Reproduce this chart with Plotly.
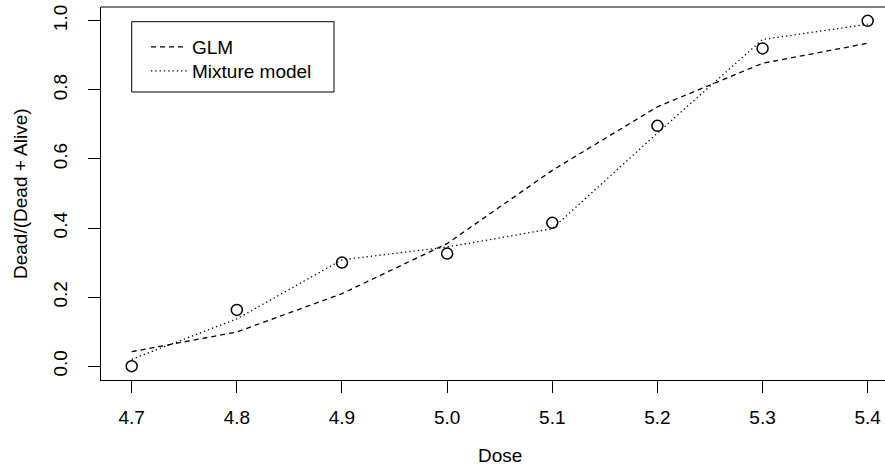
import plotly.graph_objects as go

dose = [4.7, 4.8, 4.9, 5.0, 5.1, 5.2, 5.3, 5.4]
observed = [0.0, 0.163, 0.300, 0.326, 0.415, 0.696, 0.920, 1.0]
glm_fit = [0.042, 0.099, 0.210, 0.355, 0.567, 0.751, 0.877, 0.935]
mixture_fit = [0.020, 0.137, 0.308, 0.345, 0.398, 0.675, 0.946, 0.990]
x_ticks = [4.7, 4.8, 4.9, 5.0, 5.1, 5.2, 5.3, 5.4]
y_ticks = [0.0, 0.2, 0.4, 0.6, 0.8, 1.0]

FONT = "Liberation Sans, Arial, sans-serif"
FS = 19

fig = go.Figure()
fig.add_trace(go.Scatter(x=dose, y=glm_fit, mode="lines", name="GLM", legend="legend",
                         line=dict(color="black", width=1.3, dash="5px,4px")))
fig.add_trace(go.Scatter(x=dose, y=mixture_fit, mode="lines", name="Mixture model",
                         legend="legend2",
                         line=dict(color="black", width=1.3, dash="1.3px,3px")))
fig.add_trace(go.Scatter(x=dose, y=observed, mode="markers", showlegend=False,
                         marker=dict(symbol="circle-open", size=11,
                                     color="black", line=dict(width=1.5, color="black"))))

W, H = 885, 472
L, R, T, B = 101, 0, 7, 92
pw, ph = W - L - R, H - T - B

def px(xp):
    return (xp - L) / pw

def py(yp):
    return (H - B - yp) / ph

leg_common = dict(xanchor="left", yanchor="middle", bgcolor="rgba(0,0,0,0)",
                  borderwidth=0, font=dict(size=FS, family=FONT, color="black"),
                  itemwidth=36, tracegroupgap=0)

fig.update_layout(
    width=W, height=H,
    margin=dict(l=L, r=R, t=T, b=B, autoexpand=False),
    paper_bgcolor="white", plot_bgcolor="white",
    font=dict(family=FONT, size=FS, color="black"),
    showlegend=True,
    legend=dict(x=px(146), y=py(47), **leg_common),
    legend2=dict(x=px(146), y=py(71), **leg_common),
    xaxis=dict(range=[4.6708, 5.41646], tickvals=x_ticks, tickformat=".1f",
               ticks="outside", ticklen=12, tickwidth=1, tickcolor="black",
               showline=True, linecolor="black", linewidth=1,
               showgrid=False, zeroline=False, ticklabelstandoff=8,
               tickfont=dict(size=FS, family=FONT, color="black")),
    yaxis=dict(range=[-0.04, 1.04], tickvals=y_ticks, tickformat=".1f",
               tickangle=-90, ticks="outside", ticklen=12, tickwidth=1,
               tickcolor="black", showline=True, linecolor="black", linewidth=1,
               showgrid=False, zeroline=False, ticklabelstandoff=13,
               tickfont=dict(size=FS, family=FONT, color="black")),
    shapes=[
        dict(type="line", xref="paper", yref="paper", x0=0, x1=1, y0=1, y1=1,
             line=dict(color="black", width=1)),
        dict(type="rect", xref="paper", yref="paper",
             x0=px(131.7), x1=px(334), y0=py(92), y1=py(21.7),
             line=dict(color="black", width=1), fillcolor="rgba(0,0,0,0)"),
    ],
    annotations=[
        dict(text="Dose", xref="paper", yref="paper", x=px(500), y=py(456),
             xanchor="center", yanchor="middle", showarrow=False,
             font=dict(size=FS, family=FONT, color="black")),
        dict(text="Dead/(Dead + Alive)", xref="paper", yref="paper",
             x=px(20.5), y=0.5, textangle=-90, xanchor="center", yanchor="middle",
             showarrow=False, font=dict(size=FS, family=FONT, color="black")),
    ],
)

fig.write_html("out.html", config={"displayModeBar": False},
               post_script="document.body.style.margin='0';document.body.style.padding='0';")
